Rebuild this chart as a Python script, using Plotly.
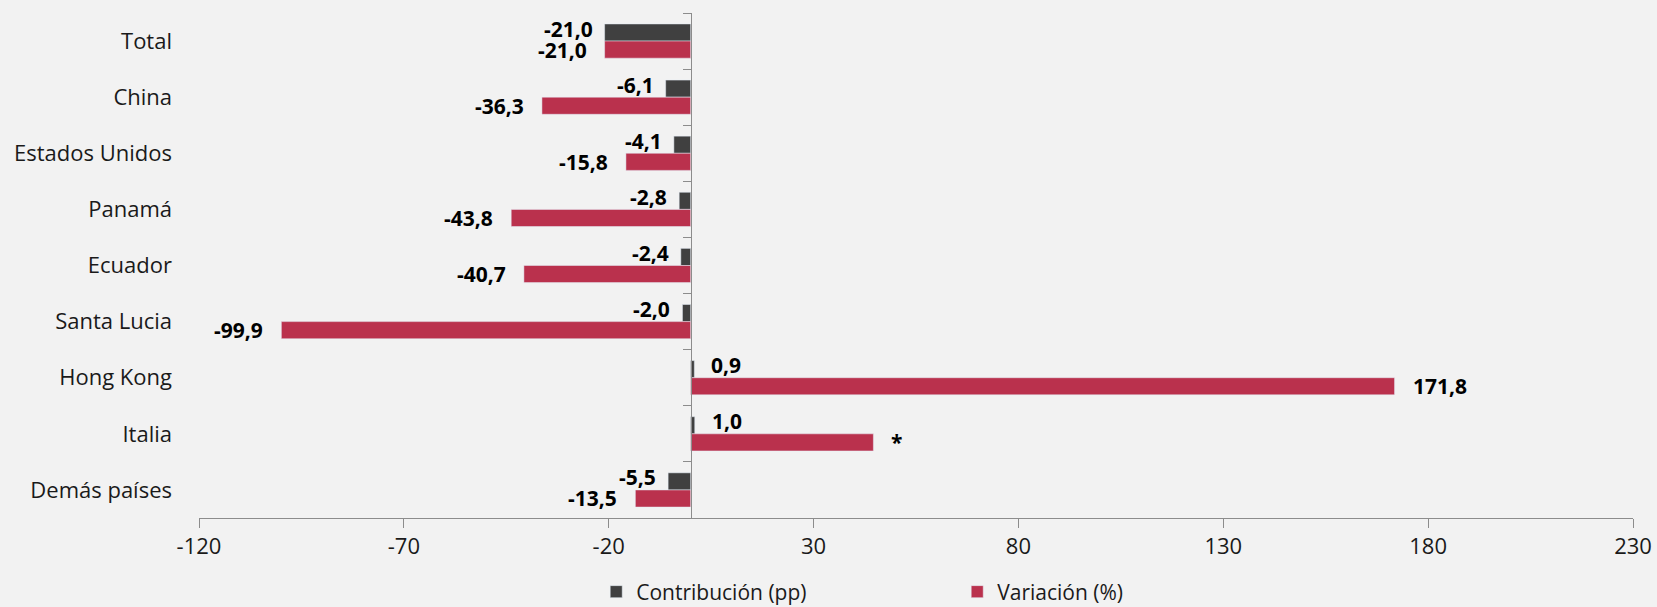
import plotly.graph_objects as go

categories = ["Total", "China", "Estados Unidos", "Panamá", "Ecuador",
              "Santa Lucia", "Hong Kong", "Italia", "Demás países"]
contribucion = [-21.0, -6.1, -4.1, -2.8, -2.4, -2.0, 0.9, 1.0, -5.5]
variacion = [-21.0, -36.3, -15.8, -43.8, -40.7, -99.9, 171.8, 44.6, -13.5]
variacion_labels = ["-21,0", "-36,3", "-15,8", "-43,8", "-40,7", "-99,9", "171,8", "*", "-13,5"]
x_ticks = [-120, -70, -20, 30, 80, 130, 180, 230]


def fmt(v):
    return f"{v:.1f}".replace(".", ",")


contrib_labels = [fmt(v) for v in contribucion]

FONT = "Open Sans"
GRAY = "#404040"
RED = "#BA314D"
AXIS = "#8C8C8C"
LABEL_FONT = dict(family=FONT, size=21, color="#000000", weight="bold")

fig = go.Figure()
fig.add_trace(go.Bar(
    name="Contribución (pp)", y=categories, x=contribucion, orientation="h",
    marker=dict(color=GRAY),
))
fig.add_trace(go.Bar(
    name="Variación (%)", y=categories, x=variacion, orientation="h",
    marker=dict(color=RED),
))
# helper trace so the category axis can be drawn at x = 0
fig.add_trace(go.Scatter(
    y=categories, x=[None] * len(categories), yaxis="y2", mode="markers",
    showlegend=False, hoverinfo="skip",
))

# data labels (outside end), gray ones sit slightly above their bar
for cat, v, t in zip(categories, contribucion, contrib_labels):
    fig.add_annotation(x=v, y=cat, text=t, showarrow=False, font=LABEL_FONT,
                       xanchor="left" if v >= 0 else "right",
                       xshift=15 if v >= 0 else -10, yshift=12.5)
for cat, v, t in zip(categories, variacion, variacion_labels):
    fig.add_annotation(x=v, y=cat, text=t, showarrow=False, font=LABEL_FONT,
                       xanchor="left" if v >= 0 else "right",
                       xshift=16 if v >= 0 else -16, yshift=-8.5)

xmin, xmax = x_ticks[0], x_ticks[-1]
fig.update_layout(
    width=1657, height=607,
    paper_bgcolor="#F2F2F2", plot_bgcolor="#F2F2F2",
    margin=dict(l=199, r=24, t=13, b=89, autoexpand=False),
    barmode="group", bargap=0.39, bargroupgap=0,
    font=dict(family=FONT, size=22, color="#1A1A1A"),
    xaxis=dict(range=[xmin, xmax], tickvals=x_ticks, ticktext=[str(t) for t in x_ticks],
               showgrid=False, zeroline=False, showline=True, linecolor=AXIS, linewidth=1,
               ticks="outside", ticklen=9, tickcolor=AXIS, tickfont=dict(size=22),
               automargin=False),
    yaxis=dict(categoryorder="array", categoryarray=categories, range=[8.5, -0.5],
               showgrid=False, zeroline=False, showline=False, ticks="",
               ticklabelstandoff=26, tickfont=dict(size=22), automargin=False),
    yaxis2=dict(categoryorder="array", categoryarray=categories, range=[8.5, -0.5],
                overlaying="y", anchor="free", position=(0 - xmin) / (xmax - xmin),
                showgrid=False, zeroline=False, showline=True, linecolor=AXIS, linewidth=1,
                ticks="outside", ticklen=8, tickcolor=AXIS, tickson="boundaries",
                showticklabels=False),
    legend=dict(orientation="h", x=0.277, xanchor="left", y=-0.1465, yanchor="middle",
                font=dict(size=21), entrywidth=316, entrywidthmode="pixels",
                bgcolor="rgba(0,0,0,0)", itemclick=False),
    showlegend=True,
)

fig.write_html("out.html", config={"displayModeBar": False},
               post_script="document.body.style.margin='0';document.body.style.overflow='hidden';")
